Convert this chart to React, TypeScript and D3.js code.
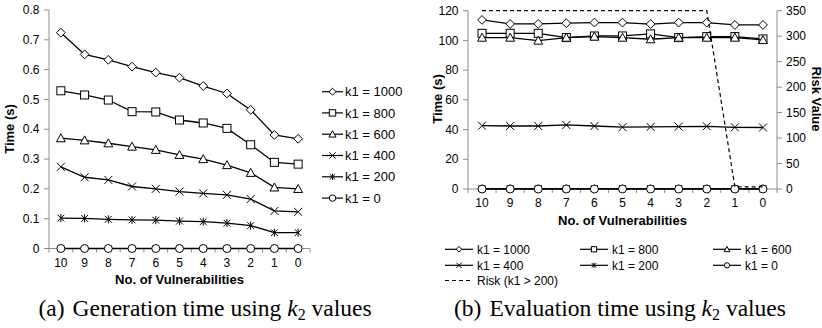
import React from "react";
import * as d3 from "d3";

const categories = ["10", "9", "8", "7", "6", "5", "4", "3", "2", "1", "0"];
const seriesNames = ["k1 = 1000", "k1 = 800", "k1 = 600", "k1 = 400", "k1 = 200", "k1 = 0"];
const markerKinds = ["diamond", "square", "triangle", "x", "star", "circle"];

// (a) generation time (s)
const genK1000 = [0.724, 0.651, 0.633, 0.61, 0.59, 0.573, 0.545, 0.52, 0.465, 0.381, 0.368];
const genK800 = [0.529, 0.515, 0.498, 0.459, 0.458, 0.431, 0.421, 0.403, 0.348, 0.289, 0.283];
const genK600 = [0.37, 0.363, 0.353, 0.342, 0.331, 0.314, 0.3, 0.28, 0.254, 0.205, 0.2];
const genK400 = [0.274, 0.239, 0.23, 0.208, 0.2, 0.191, 0.185, 0.18, 0.166, 0.126, 0.123];
const genK200 = [0.102, 0.101, 0.098, 0.096, 0.095, 0.092, 0.09, 0.085, 0.077, 0.053, 0.053];
const genK0 = [0, 0, 0, 0, 0, 0, 0, 0, 0, 0, 0];

// (b) evaluation time (s)
const evalK1000 = [113.8, 111.1, 111.1, 111.6, 112, 112, 111, 112, 112, 110.4, 110.4];
const evalK800 = [104.8, 104.8, 104.8, 101.9, 103, 103, 104.4, 101.9, 102.6, 102.6, 101];
const evalK600 = [101.9, 101.9, 99.9, 101.9, 102.6, 101.9, 100.8, 101.9, 101.9, 101.9, 100.3];
const evalK400 = [42.6, 42.4, 42.4, 43.1, 42.4, 41.6, 41.8, 42, 42.2, 41.5, 41.4];
const evalK200 = [0.3, 0.3, 0.3, 0.3, 0.3, 0.3, 0.3, 0.3, 0.3, 0.2, 0.2];
const evalK0 = [0, 0, 0, 0, 0, 0, 0, 0, 0, 0, 0];
const riskValues = [350, 350, 350, 350, 350, 350, 350, 350, 350, 4, 4];

const genTicks = [0, 0.1, 0.2, 0.3, 0.4, 0.5, 0.6, 0.7, 0.8];
const evalTicks = [0, 20, 40, 60, 80, 100, 120];
const riskTicks = [0, 50, 100, 150, 200, 250, 300, 350];

const genSeries = [genK1000, genK800, genK600, genK400, genK200, genK0];
const evalSeries = [evalK1000, evalK800, evalK600, evalK400, evalK200, evalK0];

const SANS = "'Liberation Sans', Arial, sans-serif";
const SERIF = "'Liberation Serif', 'Times New Roman', serif";
const AXIS = "#8c8c8c";

function Marker({ kind, x, y, s }: { kind: string; x: number; y: number; s: number }) {
  const st = { fill: "white", stroke: "#000", strokeWidth: 1 };
  if (kind === "diamond")
    return <path d={`M${x},${y - s * 1.1}L${x + s * 1.1},${y}L${x},${y + s * 1.1}L${x - s * 1.1},${y}Z`} {...st} />;
  if (kind === "square") return <rect x={x - s} y={y - s} width={2 * s} height={2 * s} {...st} />;
  if (kind === "triangle")
    return <path d={`M${x},${y - s * 1.1}L${x + s * 1.1},${y + s * 0.9}L${x - s * 1.1},${y + s * 0.9}Z`} {...st} />;
  if (kind === "circle") return <circle cx={x} cy={y} r={s} {...st} />;
  if (kind === "x")
    return <path d={`M${x - s},${y - s}L${x + s},${y + s}M${x - s},${y + s}L${x + s},${y - s}`} stroke="#000" strokeWidth={1} fill="none" />;
  // star
  return (
    <path
      d={`M${x - s * 0.85},${y - s * 0.85}L${x + s * 0.85},${y + s * 0.85}M${x - s * 0.85},${y + s * 0.85}L${x + s * 0.85},${y - s * 0.85}M${x},${y - s}L${x},${y + s}`}
      stroke="#000"
      strokeWidth={1}
      fill="none"
    />
  );
}

function Chart({
  left, right, top, bottom, yMax, ticks, tickFmt, series, markerSize, xLabelY, xTitleY, yTitleX, yTitleY,
}: any) {
  const x = d3.scaleBand<string>().domain(categories).range([left, right]).padding(0);
  const y = d3.scaleLinear().domain([0, yMax]).range([bottom, top]);
  const cx = (c: string) => (x(c) as number) + x.bandwidth() / 2;
  const line = d3
    .line<number>()
    .x((_, i) => cx(categories[i]))
    .y((d) => y(d));
  const bounds = categories.map((c) => x(c) as number).concat([right]);
  return (
    <g>
      <line x1={left} x2={left} y1={top} y2={bottom} stroke={AXIS} />
      <line x1={left} x2={right} y1={bottom} y2={bottom} stroke={AXIS} />
      {ticks.map((t: number) => (
        <g key={t}>
          <line x1={left - 5} x2={left} y1={y(t)} y2={y(t)} stroke={AXIS} />
          <text x={left - 9.5} y={y(t)} dy="0.35em" textAnchor="end" fontSize={12} fontFamily={SANS} fill="#000">
            {tickFmt(t)}
          </text>
        </g>
      ))}
      {bounds.map((b, i) => (
        <line key={i} x1={b} x2={b} y1={bottom} y2={bottom + 4} stroke={AXIS} />
      ))}
      {categories.map((c) => (
        <text key={c} x={cx(c)} y={xLabelY} textAnchor="middle" fontSize={12} fontFamily={SANS} fill="#000">
          {c}
        </text>
      ))}
      <text x={(left + right) / 2} y={xTitleY} textAnchor="middle" fontSize={13} fontWeight="bold" fontFamily={SANS}>
        No. of Vulnerabilities
      </text>
      <text
        transform={`translate(${yTitleX},${yTitleY}) rotate(-90)`}
        textAnchor="middle"
        fontSize={13}
        fontWeight="bold"
        fontFamily={SANS}
      >
        Time (s)
      </text>
      {series.map((vals: number[], si: number) => (
        <g key={si}>
          <path d={line(vals) || ""} fill="none" stroke="#000" strokeWidth={1.3} />
          {vals.map((v, i) => (
            <Marker key={i} kind={markerKinds[si]} x={cx(categories[i])} y={y(v)} s={markerSize} />
          ))}
        </g>
      ))}
    </g>
  );
}

export default function App() {
  const rx = d3.scaleBand<string>().domain(categories).range([468, 777]).padding(0);
  const ry = d3.scaleLinear().domain([0, 350]).range([189, 10.7]);
  const riskLine = d3
    .line<number>()
    .x((_, i) => (rx(categories[i]) as number) + rx.bandwidth() / 2)
    .y((d) => ry(d));

  const leftLegendY = [91.7, 112.9, 134.2, 155.5, 176.8, 198.1];
  const rightLegendCols = [445, 580, 713];
  const rightLegendRows = [249.3, 265.3, 280.5];

  return (
    <div style={{ position: "fixed", left: 0, top: 0 }}>
      <svg width={822} height={328} style={{ display: "block", background: "white" }}>
        <rect width={822} height={328} fill="white" />
        <Chart
          left={49}
          right={310}
          top={10}
          bottom={248.5}
          yMax={0.8}
          ticks={genTicks}
          tickFmt={(t: number) => (t === 0 ? "0" : d3.format(".1f")(t))}
          series={genSeries}
          markerSize={4}
          xLabelY={266.5}
          xTitleY={284}
          yTitleX={13.5}
          yTitleY={129}
        />
        {seriesNames.map((n, i) => (
          <g key={n}>
            <line x1={322} x2={343} y1={leftLegendY[i]} y2={leftLegendY[i]} stroke="#000" strokeWidth={1.2} />
            <Marker kind={markerKinds[i]} x={332.5} y={leftLegendY[i]} s={3.2} />
            <text x={345} y={leftLegendY[i]} dy="0.36em" fontSize={13} fontFamily={SANS}>
              {n}
            </text>
          </g>
        ))}

        <Chart
          left={468}
          right={777}
          top={10.7}
          bottom={189}
          yMax={120}
          ticks={evalTicks}
          tickFmt={(t: number) => String(t)}
          series={evalSeries}
          markerSize={4}
          xLabelY={206.5}
          xTitleY={225}
          yTitleX={442}
          yTitleY={99}
        />
        <path d={riskLine(riskValues) || ""} fill="none" stroke="#000" strokeWidth={1.2} strokeDasharray="4,3" />
        <line x1={777} x2={777} y1={10.7} y2={189} stroke={AXIS} />
        {riskTicks.map((t) => (
          <g key={t}>
            <line x1={777} x2={782} y1={ry(t)} y2={ry(t)} stroke={AXIS} />
            <text x={786} y={ry(t)} dy="0.35em" fontSize={12} fontFamily={SANS}>
              {t}
            </text>
          </g>
        ))}
        <text
          transform="translate(811.5,99) rotate(90)"
          textAnchor="middle"
          fontSize={13}
          fontWeight="bold"
          fontFamily={SANS}
        >
          Risk Value
        </text>
        {seriesNames.map((n, i) => {
          const lx = rightLegendCols[i % 3];
          const ly = rightLegendRows[Math.floor(i / 3)];
          return (
            <g key={n}>
              <line x1={lx} x2={lx + 28} y1={ly} y2={ly} stroke="#000" strokeWidth={1.2} />
              <Marker kind={markerKinds[i]} x={lx + 14} y={ly} s={2.6} />
              <text x={lx + 32} y={ly} dy="0.36em" fontSize={12} fontFamily={SANS}>
                {n}
              </text>
            </g>
          );
        })}
        <line x1={445} x2={473} y1={rightLegendRows[2]} y2={rightLegendRows[2]} stroke="#000" strokeWidth={1.2} strokeDasharray="4,3" />
        <text x={477} y={rightLegendRows[2]} dy="0.36em" fontSize={12} fontFamily={SANS}>
          Risk (k1 &gt; 200)
        </text>

        <text x={205} y={316} textAnchor="middle" fontSize={23.5} fontFamily={SERIF}>
          (a)<tspan dx={8}>Generation time using </tspan>
          <tspan fontStyle="italic">k</tspan>
          <tspan fontSize={16} dy={4}>2</tspan>
          <tspan dy={-4}> values</tspan>
        </text>
        <text x={620} y={316} textAnchor="middle" fontSize={23.5} fontFamily={SERIF}>
          (b)<tspan dx={8}>Evaluation time using </tspan>
          <tspan fontStyle="italic">k</tspan>
          <tspan fontSize={16} dy={4}>2</tspan>
          <tspan dy={-4}> values</tspan>
        </text>
      </svg>
    </div>
  );
}
